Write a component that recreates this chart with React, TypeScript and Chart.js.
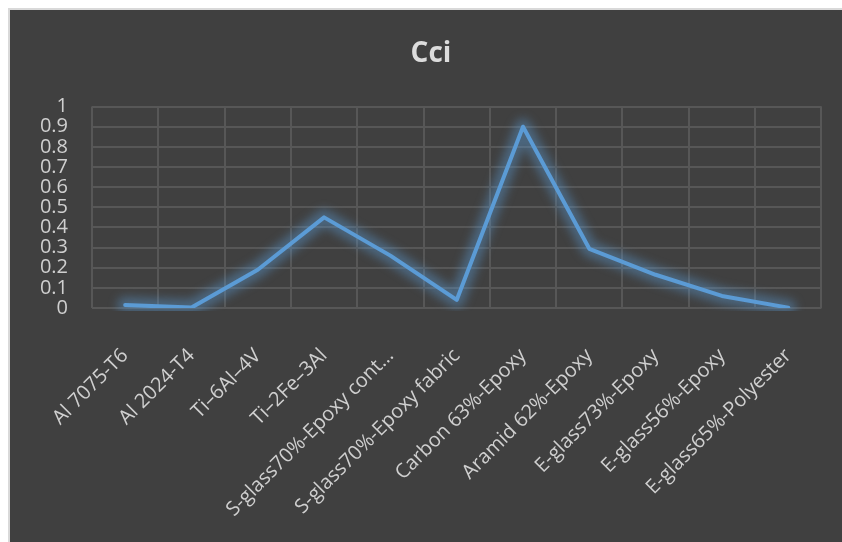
import React, { useEffect, useRef } from "react";
import { Chart, registerables } from "chart.js";

Chart.register(...registerables);

const categories = [
  "Al 7075-T6",
  "Al 2024-T4",
  "Ti–6Al–4V",
  "Ti–2Fe–3Al",
  "S-glass70%-Epoxy cont…",
  "S-glass70%-Epoxy fabric",
  "Carbon 63%-Epoxy",
  "Aramid 62%-Epoxy",
  "E-glass73%-Epoxy",
  "E-glass56%-Epoxy",
  "E-glass65%-Polyester",
];
const cciValues = [0.015, 0.002, 0.19, 0.45, 0.26, 0.04, 0.9, 0.294, 0.165, 0.06, 0.002];
const titleText = "Cci";

const FONT = "'Open Sans', 'Noto Sans', sans-serif";

const glowPlugin = {
  id: "glow",
  beforeDatasetsDraw(chart: any) {
    const ctx = chart.ctx;
    const meta = chart.getDatasetMeta(0);
    const el = meta && meta.dataset;
    if (!el) return;
    const o = el.options;
    const bw = o.borderWidth;
    const bc = o.borderColor;
    const a = chart.chartArea;
    o.borderWidth = 16;
    o.borderColor = "rgba(91,155,213,0.42)";
    ctx.save();
    ctx.beginPath();
    ctx.rect(a.left - 20, a.top - 20, a.right - a.left + 40, a.bottom - a.top + 23);
    ctx.clip();
    ctx.filter = "blur(5px)";
    el.draw(ctx, a);
    ctx.restore();
    o.borderWidth = bw;
    o.borderColor = bc;
  },
};

export default function App() {
  const ref = useRef<HTMLCanvasElement | null>(null);
  useEffect(() => {
    if (!ref.current) return;
    const chart = new Chart(ref.current, {
      type: "line",
      data: {
        labels: categories,
        datasets: [
          {
            label: titleText,
            data: cciValues,
            borderColor: "#5b9bd5",
            borderWidth: 4,
            pointRadius: 0,
            tension: 0,
            fill: false,
            borderCapStyle: "round",
            borderJoinStyle: "round",
          },
        ],
      },
      plugins: [glowPlugin],
      options: {
        responsive: false,
        animation: false,
        layout: { padding: { left: 27, right: 17, top: 0, bottom: 0 } },
        plugins: {
          legend: { display: false },
          tooltip: { enabled: false },
          title: {
            display: true,
            text: titleText,
            color: "#dcdcdc",
            font: { family: FONT, size: 28, weight: "bold" },
            padding: { top: 27, bottom: 36 },
          },
        },
        scales: {
          x: {
            type: "category",
            offset: true,
            grid: {
              offset: true,
              color: "#575757",
              lineWidth: 2,
              drawTicks: false,
            },
            border: { display: false },
            ticks: {
              color: "#cfcfcf",
              font: { family: FONT, size: 20 },
              minRotation: 45,
              maxRotation: 45,
              autoSkip: false,
              padding: 36,
            },
            afterFit: (scale: any) => {
              scale.height = 234;
            },
          },
          y: {
            min: 0,
            max: 1,
            grid: {
              color: "#575757",
              lineWidth: 2,
              drawTicks: false,
            },
            border: { display: false },
            ticks: {
              stepSize: 0.1,
              autoSkip: false,
              color: "#cfcfcf",
              font: { family: FONT, size: 20, lineHeight: 1 },
              padding: 24,
              callback: (v: any) => String(Number(Number(v).toFixed(1))),
            },
            afterFit: (scale: any) => {
              scale.width = 55;
            },
          },
        },
      },
    });
    return () => chart.destroy();
  }, []);

  return (
    <div
      style={{
        position: "fixed",
        left: 8,
        top: 8,
        width: 850,
        height: 550,
        boxSizing: "border-box",
        borderLeft: "2px solid #d9d9d9",
        borderTop: "2px solid #d9d9d9",
        background: "#404040",
        overflow: "hidden",
      }}
    >
      <canvas ref={ref} width={832} height={532} style={{ display: "block" }} />
    </div>
  );
}
